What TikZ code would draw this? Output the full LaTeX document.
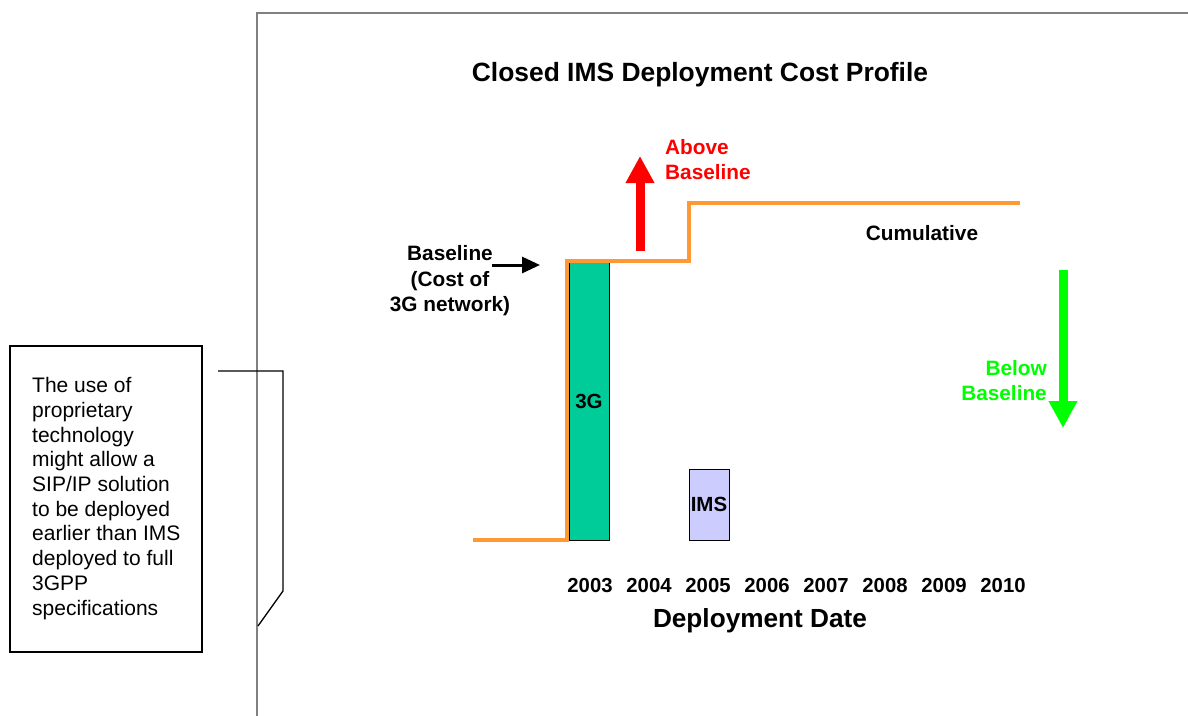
\documentclass[tikz,border=0pt]{standalone}
\usepackage{fontspec}
\setmainfont{Liberation Sans}
\usetikzlibrary{arrows.meta}
\definecolor{frameg}{RGB}{128,128,128}
\definecolor{costor}{RGB}{255,153,51}
\definecolor{teal3g}{RGB}{0,204,153}
\definecolor{imsfill}{RGB}{204,204,255}
\definecolor{redA}{RGB}{255,0,0}
\definecolor{greenA}{RGB}{0,255,0}
\tikzset{
  lbl/.style={inner sep=0pt, font=\bfseries\fontsize{20.8}{25.5}\selectfont},
  yearlbl/.style={inner sep=0pt, anchor=base, font=\bfseries\fontsize{20.3}{24}\selectfont},
  bar/.style={draw=black, line width=1pt, inner sep=0pt, font=\bfseries\fontsize{20.5}{24}\selectfont},
  costline/.style={draw=costor, line width=3.3pt},
  bigarrow/.style={line width=9pt, -{Triangle[length=27pt,width=27pt]}},
}
\begin{document}
\begin{tikzpicture}[x=1pt,y=-1pt]
\useasboundingbox (0,0) rectangle (1188,715);
% frame
\draw[frameg, line width=1.5pt] (257,716) -- (257,13) -- (1189,13);
% title
\node[inner sep=0pt, anchor=base, font=\bfseries\fontsize{26.4}{30}\selectfont] (title) at (700,81) {Closed IMS Deployment Cost Profile};
% callout box
\draw[black, line width=1.2pt] (10,346) rectangle (202,652);
\node[inner sep=0pt, anchor=west, align=left, font=\fontsize{21}{24.7}\selectfont] (note) at (32,498.5) {The use of\\proprietary\\technology\\might allow a\\SIP/IP solution\\to be deployed\\earlier than IMS\\deployed to full\\3GPP\\specifications};
\coordinate (c1) at (218,371);
\coordinate (c2) at (283,371);
\coordinate (c3) at (283,591);
\coordinate (c4) at (258,626);
\draw[black, line width=1.3pt] (c1) -- (c2) -- (c3) -- (c4);
% bars
\node[bar, fill=teal3g, minimum width=40pt, minimum height=278pt] (bar3g) at (589,401) {3G};
\node[bar, fill=imsfill, minimum width=40pt, minimum height=71pt] (barims) at (709,504.5) {IMS};
% cost line
\coordinate (o1) at (473,540);
\coordinate (o2) at (567,540);
\coordinate (o3) at (567,261);
\coordinate (o4) at (689,261);
\coordinate (o5) at (689,203);
\coordinate (o6) at (1020,203);
\path[costline] (o1) -- (o2) -- (o3) -- (o4) -- (o5) -- (o6);
% baseline label and arrow
\node[lbl, align=center] (base) at (450,281) {Baseline\\(Cost of\\3G network)};
\coordinate (ba1) at (492,265);
\coordinate (ba2) at (540,265);
\draw[black, line width=3pt, -{Triangle[length=18pt,width=16pt]}] (ba1) -- (ba2);
% above baseline
\coordinate (ra1) at (640,251);
\coordinate (ra2) at (640,156);
\draw[redA, bigarrow] (ra1) -- (ra2);
\node[lbl, text=redA, align=left, anchor=west] (above) at (665,159.5) {Above\\Baseline};
% below baseline
\coordinate (ga1) at (1063,270);
\coordinate (ga2) at (1063,428);
\draw[greenA, bigarrow] (ga1) -- (ga2);
\node[lbl, text=greenA, align=right, anchor=east] (below) at (1047,380.5) {Below\\Baseline};
% cumulative
\node[lbl, anchor=base] (cum) at (922,240) {Cumulative};
% years
\node[yearlbl] (y2003) at (590,592) {2003};
\node[yearlbl] (y2004) at (649,592) {2004};
\node[yearlbl] (y2005) at (708,592) {2005};
\node[yearlbl] (y2006) at (767,592) {2006};
\node[yearlbl] (y2007) at (826,592) {2007};
\node[yearlbl] (y2008) at (885,592) {2008};
\node[yearlbl] (y2009) at (944,592) {2009};
\node[yearlbl] (y2010) at (1003,592) {2010};
\node[inner sep=0pt, anchor=base, font=\bfseries\fontsize{26.2}{30}\selectfont] (xlab) at (760,627) {Deployment Date};
\end{tikzpicture}
\end{document}
